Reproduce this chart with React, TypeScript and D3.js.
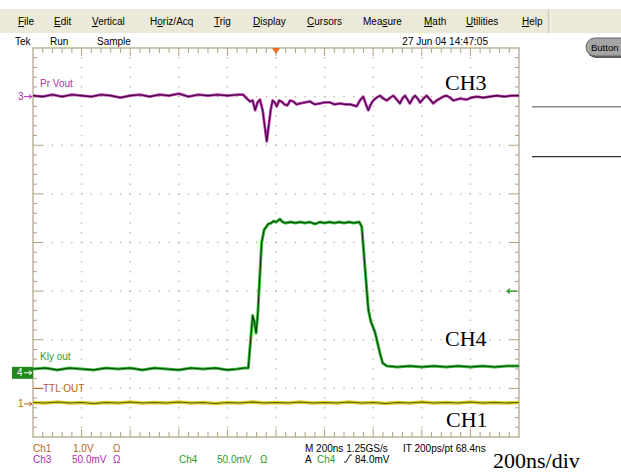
import React, { useEffect, useRef } from 'react';
import * as d3 from 'd3';

// ---- scope setup ----
const menuItems = ['File', 'Edit', 'Vertical', 'Horiz/Acq', 'Trig', 'Display', 'Cursors', 'Measure', 'Math', 'Utilities', 'Help'];
const menuHotkey = [0, 0, 0, 1, 0, 0, 0, 3, 0, 0, 0];
const statusItems = ['Tek', 'Run', 'Sample'];
const dateText = '27 Jun 04 14:47:05';

const timeDomain = [-1000, 1000]; // ns, 200 ns/div
const divDomain = [-4, 4];

// channel scales (per division) and ground offsets (in divisions from centre)
const ch3PerDiv = 50; // mV
const ch4PerDiv = 50; // mV
const ch1PerDiv = 1; // V
const ch3Offset = 3.0;
const ch4Offset = -2.68;
const ch1Offset = -3.32;
const triggerLevel = 84; // mV on CH4

// ---- traces: [time ns, value] ----
const ch3Trace: [number, number][] = [
  [-1000, 1], [-960, 0], [-920, 2], [-880, 0], [-840, 2], [-800, 1], [-760, 0], [-720, 2], [-680, 1],
  [-640, -1], [-600, 1], [-560, 2], [-520, 0], [-480, 2], [-440, 1], [-400, 3], [-360, 0], [-320, 2],
  [-280, 1], [-240, 2], [-200, 1], [-156, 2], [-135, 2], [-120, -2], [-107, -5], [-96, -4], [-86, -14],
  [-76, -6], [-66, -3], [-55, -14], [-38, -46], [-22, -14], [-14, -4], [-5, -6], [3, -10], [13, -4],
  [23, -5], [35, -8], [47, -9], [58, -4], [71, -5], [85, -8], [99, -7], [120, -6], [140, -5], [160, -8],
  [181, -7], [200, -6], [222, -6], [242, -8], [263, -7], [285, -8], [305, -8], [320, -9], [332, -10],
  [345, -4], [359, 0], [370, -8], [380, -14], [390, -8], [400, -4], [414, -1], [428, 1], [442, -2],
  [456, -4], [470, -1], [483, 1], [497, -3], [510, -7], [520, -2], [531, 1], [541, -3], [551, -7],
  [562, -2], [572, 1], [583, -2], [593, -6], [607, -2], [620, 1], [634, -3], [647, -7], [661, -4],
  [675, -2], [688, 0], [702, 1], [716, -1], [730, -4], [757, -2], [785, -3], [805, -1], [826, 0],
  [853, -1], [880, 0], [910, 1], [940, 0], [970, 1], [1000, 1],
];

const ch4Trace: [number, number][] = [
  [-1000, 4], [-950, 5], [-900, 3], [-850, 5], [-800, 4], [-750, 3], [-700, 5], [-650, 4], [-600, 5],
  [-550, 3], [-500, 5], [-450, 4], [-400, 3], [-350, 5], [-300, 4], [-250, 5], [-200, 3], [-160, 4],
  [-130, 5], [-114, 5], [-104, 35], [-96, 59], [-89, 52], [-82, 41], [-75, 60], [-69, 89], [-59, 134],
  [-49, 147], [-32, 153], [-20, 154], [-10, 156], [0, 155], [16, 158], [28, 155], [40, 154], [60, 155],
  [80, 154], [100, 155], [120, 154], [140, 155], [160, 153], [180, 155], [200, 154], [220, 155],
  [240, 154], [260, 155], [280, 154], [300, 155], [320, 154], [343, 155], [353, 150], [366, 109],
  [380, 65], [390, 53], [407, 42], [428, 20], [439, 10], [456, 7], [500, 6], [550, 7], [600, 6],
  [650, 7], [700, 6], [750, 7], [800, 6], [850, 7], [900, 6], [950, 7], [1000, 7],
];

const ch1Trace: [number, number][] = [
  [-1000, 0.03], [-950, 0.02], [-900, 0.04], [-850, 0.02], [-800, 0.03], [-750, 0.01], [-700, 0.03],
  [-650, 0.02], [-600, 0.04], [-550, 0.02], [-500, 0.03], [-450, 0.02], [-400, 0.04], [-350, 0.02],
  [-300, 0.03], [-250, 0.01], [-200, 0.03], [-150, 0.02], [-100, 0.04], [-50, 0.02], [0, 0.03],
  [50, 0.02], [100, 0.04], [150, 0.02], [200, 0.03], [250, 0.02], [300, 0.04], [350, 0.02], [400, 0.03],
  [450, 0.01], [500, 0.03], [550, 0.02], [600, 0.04], [650, 0.02], [700, 0.03], [750, 0.02],
  [800, 0.04], [850, 0.02], [900, 0.03], [950, 0.02], [1000, 0.03],
];

const SANS = "'Liberation Sans', Arial, sans-serif";
const SERIF = "'Liberation Serif', 'Times New Roman', serif";

export default function App() {
  const ref = useRef<SVGSVGElement>(null);

  useEffect(() => {
    if (!ref.current) return;
    const svg = d3.select(ref.current);
    svg.selectAll('*').remove();

    const left = 33, right = 519, top = 48, bottom = 437;
    const x = d3.scaleLinear().domain(timeDomain).range([left, right]);
    const y = d3.scaleLinear().domain(divDomain).range([bottom, top]);

    const txt = (g: any, px: number, py: number, s: string, color: string, size = 10, family = SANS, anchor = 'start') =>
      g.append('text').attr('x', px).attr('y', py).attr('fill', color)
        .attr('font-size', size).attr('font-family', family).attr('text-anchor', anchor).text(s);

    // menu bar
    svg.append('rect').attr('x', 0).attr('y', 9).attr('width', 621).attr('height', 24).attr('fill', '#ECE9D8');
    svg.append('line').attr('x1', 549).attr('x2', 549).attr('y1', 9).attr('y2', 33).attr('stroke', '#ACA899');
    svg.append('line').attr('x1', 550).attr('x2', 550).attr('y1', 9).attr('y2', 33).attr('stroke', '#fff');
    const menuX = [18, 54, 92, 150, 214, 253, 307, 363, 424, 466, 522];
    menuItems.forEach((m, i) => {
      const t = svg.append('text').attr('x', menuX[i]).attr('y', 25).attr('font-size', 10)
        .attr('font-family', SANS).attr('fill', '#000');
      const k = menuHotkey[i];
      if (k > 0) t.append('tspan').text(m.slice(0, k));
      t.append('tspan').attr('text-decoration', 'underline').text(m[k]);
      t.append('tspan').text(m.slice(k + 1));
    });

    // status line
    const statusX = [15, 50, 97];
    statusItems.forEach((s, i) => txt(svg, statusX[i], 45, s, '#000'));
    txt(svg, 488, 45, dateText, '#000', 10, SANS, 'end');

    // button + side lines
    svg.append('rect').attr('x', 587).attr('y', 40).attr('width', 50).attr('height', 18).attr('rx', 9)
      .attr('fill', '#5a5a5a');
    svg.append('rect').attr('x', 586).attr('y', 38).attr('width', 50).attr('height', 18).attr('rx', 9)
      .attr('fill', '#A4A4A4').attr('stroke', '#666');
    txt(svg, 591, 51, 'Button', '#000', 9.5);
    svg.append('line').attr('x1', 532).attr('x2', 621).attr('y1', 106.7).attr('y2', 106.7)
      .attr('stroke', '#8a8a8a').attr('stroke-width', 1.5);
    svg.append('line').attr('x1', 532).attr('x2', 621).attr('y1', 156.7).attr('y2', 156.7)
      .attr('stroke', '#333').attr('stroke-width', 1.2);

    // graticule
    const grid = svg.append('g');
    const frame = '#ABA283';
    const dotCol = '#BDB69A';
    const majorT = d3.range(-800, 801, 200);
    const majorV = d3.range(-3, 3.01, 1);
    const minorT = d3.range(-960, 961, 40);
    const minorV = d3.range(-3.8, 3.81, 0.2);
    majorT.forEach(t => minorV.forEach(v => {
      grid.append('rect').attr('x', x(t) - 0.7).attr('y', y(v) - 0.7).attr('width', 1.4).attr('height', 1.4).attr('fill', dotCol);
    }));
    majorV.forEach(v => minorT.forEach(t => {
      grid.append('rect').attr('x', x(t) - 0.7).attr('y', y(v) - 0.7).attr('width', 1.4).attr('height', 1.4).attr('fill', dotCol);
    }));
    grid.append('rect').attr('x', left).attr('y', top).attr('width', right - left).attr('height', bottom - top)
      .attr('fill', 'none').attr('stroke', frame).attr('stroke-width', 1.2);
    minorT.forEach(t => {
      const major = Math.abs(Math.round(t) % 200) < 1;
      const len = major ? 8 : 5;
      grid.append('line').attr('x1', x(t)).attr('x2', x(t)).attr('y1', top).attr('y2', top + len).attr('stroke', frame);
      grid.append('line').attr('x1', x(t)).attr('x2', x(t)).attr('y1', bottom).attr('y2', bottom - len).attr('stroke', frame);
    });
    minorV.forEach(v => {
      const major = Math.abs(v - Math.round(v)) < 0.01;
      const len = major ? 9 : 4;
      grid.append('line').attr('x1', left).attr('x2', left + len).attr('y1', y(v)).attr('y2', y(v)).attr('stroke', frame);
      grid.append('line').attr('x1', right).attr('x2', right - len).attr('y1', y(v)).attr('y2', y(v)).attr('stroke', frame);
    });

    // trigger position marker
    svg.append('path').attr('d', `M${x(0) - 4},${top} L${x(0) + 4},${top} L${x(0)},${top + 6} Z`).attr('fill', '#F26B1D');

    // traces
    const drawTrace = (data: [number, number][], off: number, per: number, halo: string, core: string, hw: number) => {
      const line = d3.line<[number, number]>().x(d => x(d[0])).y(d => y(off + d[1] / per));
      svg.append('path').datum(data).attr('d', line).attr('fill', 'none').attr('stroke', halo)
        .attr('stroke-width', hw).attr('stroke-linejoin', 'round');
      svg.append('path').datum(data).attr('d', line).attr('fill', 'none').attr('stroke', core)
        .attr('stroke-width', 1.1).attr('stroke-linejoin', 'round');
    };
    drawTrace(ch1Trace, ch1Offset, ch1PerDiv, '#DAD52C', '#5F5A10', 3.6);
    drawTrace(ch4Trace, ch4Offset, ch4PerDiv, '#34BC34', '#0E3F12', 3);
    drawTrace(ch3Trace, ch3Offset, ch3PerDiv, '#C43ABA', '#3E0838', 2.8);

    // channel ground markers
    const c1 = '#B4641E', c3 = '#B22AB0', c4 = '#2A9A2A';
    const y3 = y(ch3Offset), y4 = y(ch4Offset), y1 = y(ch1Offset);
    txt(svg, 18, y3 + 3.5, '3', c3);
    svg.append('path').attr('d', `M24,${y3} L32,${y3} M29,${y3 - 2} L32,${y3} L29,${y3 + 2}`).attr('stroke', c3).attr('fill', 'none');
    svg.append('rect').attr('x', 12).attr('y', y4 - 6).attr('width', 21).attr('height', 12).attr('fill', '#1E8A1E');
    txt(svg, 17, y4 + 3.5, '4', '#fff');
    svg.append('path').attr('d', `M24,${y4} L32,${y4} M29,${y4 - 2} L32,${y4} L29,${y4 + 2}`).attr('stroke', '#fff').attr('fill', 'none');
    txt(svg, 18, y1 + 3.5, '1', c1);
    svg.append('path').attr('d', `M24,${y1} L32,${y1} M29,${y1 - 2} L32,${y1} L29,${y1 + 2}`).attr('stroke', c1).attr('fill', 'none');

    // trigger level arrow on right
    const yt = y(ch4Offset + triggerLevel / ch4PerDiv);
    svg.append('path').attr('d', `M507,${yt} L517,${yt} M510,${yt - 2.5} L507,${yt} L510,${yt + 2.5}`)
      .attr('stroke', c4).attr('stroke-width', 1.3).attr('fill', 'none');

    // trace labels
    txt(svg, 40, 86.5, 'Pr Vout', c3);
    txt(svg, 40, 360, 'Kly out', c4);
    svg.append('line').attr('x1', left).attr('x2', 43).attr('y1', y(-3)).attr('y2', y(-3)).attr('stroke', c1);
    txt(svg, 43, 391.5, 'TTL OUT', c1);

    // readouts
    txt(svg, 33, 452, 'Ch1', c1); txt(svg, 73, 452, '1.0V', c1); txt(svg, 113, 452, 'Ω', c1);
    txt(svg, 33, 463, 'Ch3', c3); txt(svg, 72, 463, '50.0mV', c3); txt(svg, 113, 463, 'Ω', c3);
    txt(svg, 179, 463, 'Ch4', c4); txt(svg, 217, 463, '50.0mV', c4); txt(svg, 260, 463, 'Ω', c4);
    txt(svg, 305, 452, 'M 200ns 1.25GS/s', '#000');
    txt(svg, 403, 452, 'IT 200ps/pt 68.4ns', '#000');
    txt(svg, 305, 463, 'A', '#000');
    txt(svg, 317, 463, 'Ch4', c4);
    svg.append('path').attr('d', 'M344,462 L346,462 L350,455 L352,455').attr('stroke', '#000').attr('fill', 'none').attr('stroke-width', 0.9);
    txt(svg, 355, 463, '84.0mV', '#000');

    // annotations
    txt(svg, 445, 90, 'CH3', '#000', 22, SERIF);
    txt(svg, 445, 346, 'CH4', '#000', 22, SERIF);
    txt(svg, 446, 427, 'CH1', '#000', 22, SERIF);
    txt(svg, 493, 468, '200ns/div', '#000', 22, SERIF);
  }, []);

  return (
    <svg ref={ref} width={621} height={473}
      style={{ position: 'absolute', left: 0, top: 0, background: '#fff', display: 'block' }} />
  );
}
